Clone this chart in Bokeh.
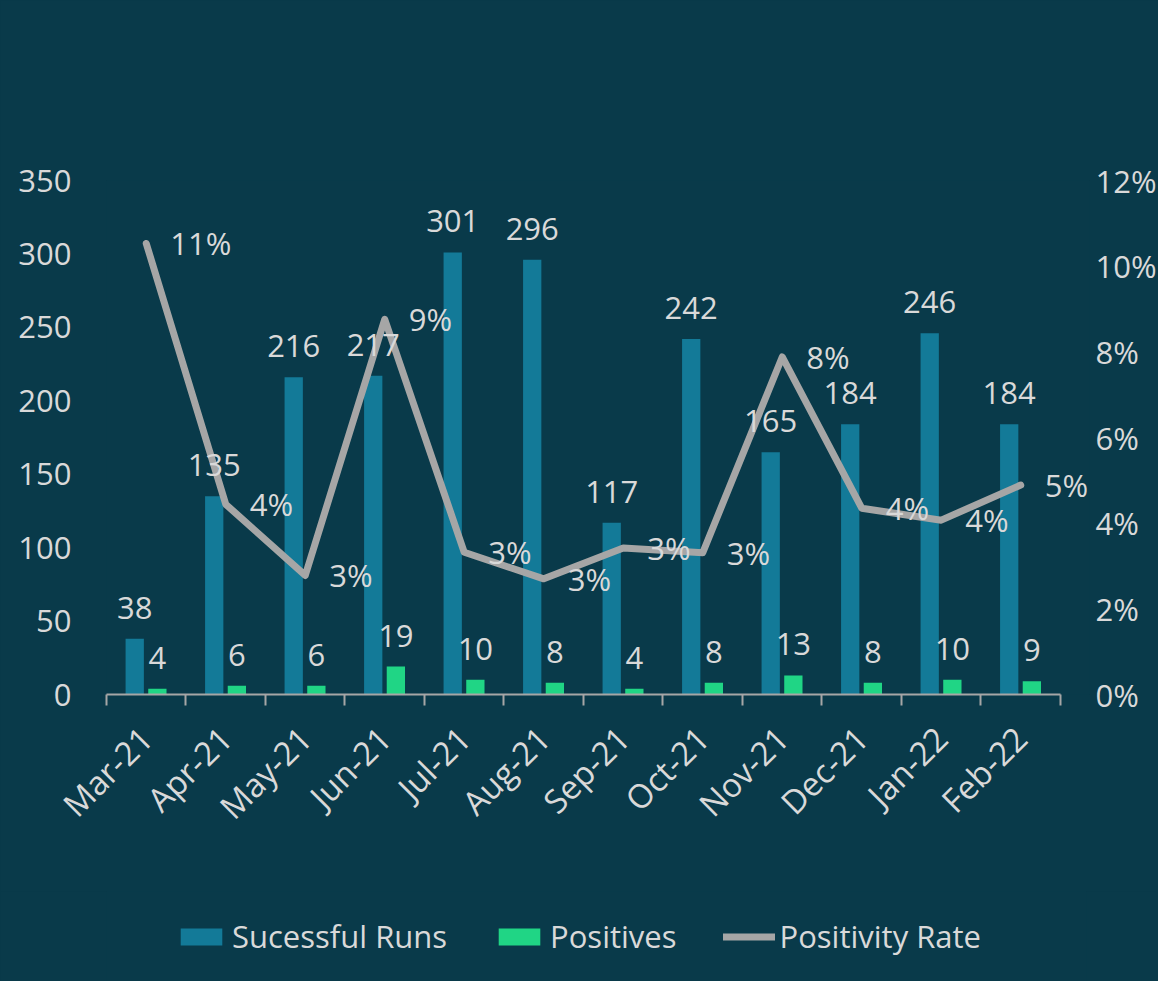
import math
from bokeh.plotting import figure
from bokeh.layouts import column
from bokeh.models import (Range1d, LinearAxis, FixedTicker,
                          NumeralTickFormatter, ColumnDataSource, LabelSet, Legend, LegendItem)
from bokeh.transform import dodge
from bokeh.core.properties import value
from bokeh.embed import file_html
from bokeh.resources import INLINE

months = ["Mar-21", "Apr-21", "May-21", "Jun-21", "Jul-21", "Aug-21",
          "Sep-21", "Oct-21", "Nov-21", "Dec-21", "Jan-22", "Feb-22"]
runs = [38, 135, 216, 217, 301, 296, 117, 242, 165, 184, 246, 184]
positives = [4, 6, 6, 19, 10, 8, 4, 8, 13, 8, 10, 9]
rate = [0.1053, 0.0444, 0.0278, 0.0876, 0.0332, 0.0270,
        0.0342, 0.0331, 0.0788, 0.0435, 0.0407, 0.0489]
left_ticks = [0, 50, 100, 150, 200, 250, 300, 350]
right_ticks = [0, 0.02, 0.04, 0.06, 0.08, 0.10, 0.12]
series_names = ["Sucessful Runs", "Positives", "Positivity Rate"]

BG = "#093a4a"
TXT = "#d9d9d9"
BLUE = "#137a98"
GREEN = "#20d585"
GREY = "#a6a6a6"
FONT = "Open Sans"
FS = "31px"

n = len(months)
centers = [i + 0.5 for i in range(n)]
bounds = list(range(n + 1))

src = ColumnDataSource(dict(
    x=centers, months=months, runs=runs, positives=positives, rate=rate,
    runs_lbl=[str(v) for v in runs],
    pos_lbl=[str(v) for v in positives],
    rate_lbl=[f"{r:.0%}" for r in rate],
))

# frame extends a little past the last category so the last % label is not clipped
p = figure(x_range=Range1d(0, 12.365), y_range=Range1d(0, 350),
           frame_width=983, frame_height=514,
           min_border_left=106, min_border_right=67, min_border_top=180, min_border_bottom=197,
           output_backend="svg", toolbar_location=None,
           x_axis_location=None, y_axis_location=None,
           background_fill_color=BG, border_fill_color=BG, outline_line_color=None,
           styles={"background-color": BG})
p.grid.visible = False
p.extra_y_ranges = {"pct": Range1d(0, 0.12)}

axis_text = dict(major_label_text_color=TXT, major_label_text_font=FONT,
                 major_label_text_font_size=FS)

yl = LinearAxis(ticker=FixedTicker(ticks=left_ticks), axis_line_color=None,
                major_tick_line_color=None, minor_tick_line_color=None,
                major_tick_out=0, major_tick_in=0, major_label_standoff=35, **axis_text)
p.add_layout(yl, "left")

yr = LinearAxis(y_range_name="pct", ticker=FixedTicker(ticks=right_ticks),
                formatter=NumeralTickFormatter(format="0%"), axis_line_color=None,
                major_tick_line_color=None, minor_tick_line_color=None,
                major_tick_out=0, major_tick_in=0, major_label_standoff=6, **axis_text)
p.add_layout(yr, "right")

xb = LinearAxis(ticker=FixedTicker(ticks=bounds), bounds=(0, n),
                axis_line_color=GREY, axis_line_width=2,
                major_tick_line_color=GREY, major_tick_line_width=2,
                major_tick_in=0, major_tick_out=11, minor_tick_line_color=None,
                major_label_overrides={b: "" for b in bounds},
                major_label_text_font_size="0px", major_label_standoff=0)
p.add_layout(xb, "below")

xc = LinearAxis(ticker=FixedTicker(ticks=centers),
                major_label_overrides={c: m for c, m in zip(centers, months)},
                axis_line_color=None, major_tick_line_color=None, minor_tick_line_color=None,
                major_tick_in=0, major_tick_out=0,
                major_label_orientation=math.pi / 4, major_label_standoff=27,
                major_label_text_color=TXT, major_label_text_font=FONT,
                major_label_text_font_size="33px")
p.add_layout(xc, "below")

p.vbar(x=dodge("x", -0.145), top="runs", width=0.23,
       source=src, fill_color=BLUE, line_color=None)
p.vbar(x=dodge("x", 0.14), top="positives", width=0.23,
       source=src, fill_color=GREEN, line_color=None)
p.line(x="x", y="rate", y_range_name="pct", source=src, line_color=GREY,
       line_width=7, line_cap="round", line_join="round")

lbl = dict(text_color=TXT, text_font=value(FONT), text_font_size=value(FS))
p.add_layout(LabelSet(x=dodge("x", -0.145), y="runs", text="runs_lbl",
                      source=src, text_align="center", text_baseline="alphabetic",
                      y_offset=20, **lbl))
p.add_layout(LabelSet(x=dodge("x", 0.14), y="positives", text="pos_lbl",
                      source=src, text_align="center", text_baseline="alphabetic",
                      y_offset=20, **lbl))
p.add_layout(LabelSet(x="x", y="rate", y_range_name="pct", text="rate_lbl",
                      source=src, text_align="left", text_baseline="middle",
                      x_offset=24, **lbl))

# legend strip below the chart (legend keys use off-range placeholder glyphs)
pl = figure(width=1156, height=90, x_range=Range1d(0, 1), y_range=Range1d(0, 1),
            min_border=0, output_backend="svg", toolbar_location=None,
            x_axis_location=None, y_axis_location=None,
            background_fill_color=BG, border_fill_color=BG, outline_line_color=None,
            styles={"background-color": BG})
pl.grid.visible = False
g1 = pl.vbar(x=[-5], top=[-5], width=0.1, fill_color=BLUE, line_color=None)
g2 = pl.vbar(x=[-5], top=[-5], width=0.1, fill_color=GREEN, line_color=None)
g3 = pl.line(x=[-6, -5], y=[-5, -5], line_color=GREY, line_width=7, line_cap="round")

legend = Legend(items=[LegendItem(label=series_names[0], renderers=[g1]),
                       LegendItem(label=series_names[1], renderers=[g2]),
                       LegendItem(label=series_names[2], renderers=[g3])],
                orientation="horizontal", location=(69, 24),
                glyph_width=52, glyph_height=21, label_standoff=5, spacing=46,
                padding=0, margin=0, background_fill_alpha=0, border_line_color=None,
                label_text_color=TXT, label_text_font=FONT, label_text_font_size=FS)
pl.add_layout(legend, "center")

layout = column(p, pl, spacing=0, styles={"background-color": BG})
open("out.html", "w").write(file_html(layout, INLINE))
